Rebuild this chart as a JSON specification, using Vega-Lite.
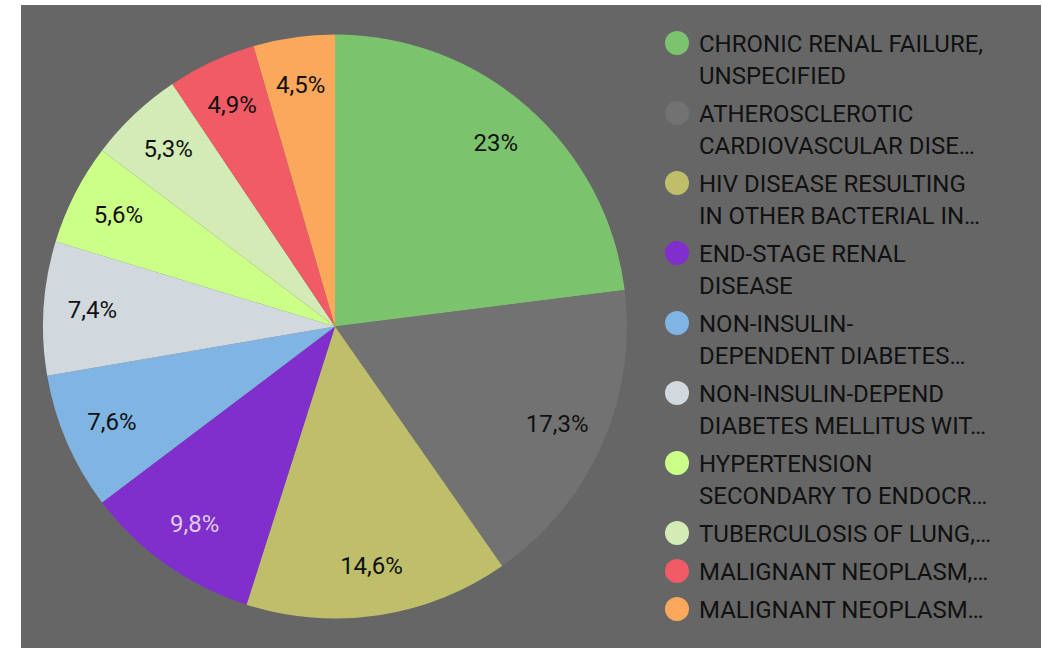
{
  "$schema": "https://vega.github.io/schema/vega-lite/v6.json",
  "background": "white",
  "padding": {"left": 21, "top": 5, "right": 2, "bottom": 0},
  "spacing": 0,
  "config": {
    "view": {"fill": "#666666", "stroke": "transparent", "strokeWidth": 0},
    "font": "Roboto",
    "concat": {"spacing": 0}
  },
  "data": {
    "values": [
      {"cat": "CHRONIC RENAL FAILURE,\nUNSPECIFIED", "pct": 23, "label": "23%"},
      {"cat": "ATHEROSCLEROTIC\nCARDIOVASCULAR DISE…", "pct": 17.3, "label": "17,3%"},
      {"cat": "HIV DISEASE RESULTING\nIN OTHER BACTERIAL IN…", "pct": 14.6, "label": "14,6%"},
      {"cat": "END-STAGE RENAL\nDISEASE", "pct": 9.8, "label": "9,8%"},
      {"cat": "NON-INSULIN-\nDEPENDENT DIABETES…", "pct": 7.6, "label": "7,6%"},
      {"cat": "NON-INSULIN-DEPEND\nDIABETES MELLITUS WIT…", "pct": 7.4, "label": "7,4%"},
      {"cat": "HYPERTENSION\nSECONDARY TO ENDOCR…", "pct": 5.6, "label": "5,6%"},
      {"cat": "TUBERCULOSIS OF LUNG,…", "pct": 5.3, "label": "5,3%"},
      {"cat": "MALIGNANT NEOPLASM,…", "pct": 4.9, "label": "4,9%"},
      {"cat": "MALIGNANT NEOPLASM…", "pct": 4.5, "label": "4,5%"}
    ]
  },
  "hconcat": [
    {
      "width": 628,
      "height": 643,
      "view": {"fill": "#666666", "stroke": "transparent", "strokeWidth": 0},
      "encoding": {
        "theta": {"field": "pct", "type": "quantitative", "stack": true},
        "order": {"field": "pct", "sort": "descending"}
      },
      "layer": [
        {
          "mark": {"type": "arc", "outerRadius": 292},
          "encoding": {
            "color": {
              "field": "cat",
              "type": "nominal",
              "sort": null,
              "scale": {
                "range": ["#7cc36e", "#727272", "#bfbf6b", "#812fcc", "#80b4e2", "#d1d9df", "#ccff88", "#d3ebb5", "#f15b66", "#faa85b"]
              },
              "legend": {
                "orient": "none",
                "legendX": 644,
                "legendY": 26,
                "title": null,
                "padding": 0,
                "symbolType": "circle",
                "symbolSize": 576,
                "symbolStrokeWidth": 0,
                "symbolOpacity": 1,
                "labelFont": "Roboto",
                "labelFontSize": 24,
                "labelColor": "#111111",
                "labelLimit": 400,
                "labelOffset": 10,
                "labelBaseline": "top",
                "labelExpr": "split(datum.label, '\\n')",
                "rowPadding": 12,
                "encoding": {
                  "labels": {"lineHeight": {"value": 32}, "dy": {"value": -10}}
                }
              }
            }
          }
        },
        {
          "mark": {"type": "text", "radius": 243, "fontSize": 24, "font": "Roboto"},
          "encoding": {
            "text": {"field": "label", "type": "nominal"},
            "color": {
              "condition": {"test": "datum.pct === 9.8", "value": "#dccbe9"},
              "value": "#111111"
            }
          }
        }
      ]
    },
    {
      "width": 392,
      "height": 643,
      "view": {"fill": "#666666", "stroke": "transparent", "strokeWidth": 0},
      "mark": {"type": "text", "text": ""}
    }
  ]
}
